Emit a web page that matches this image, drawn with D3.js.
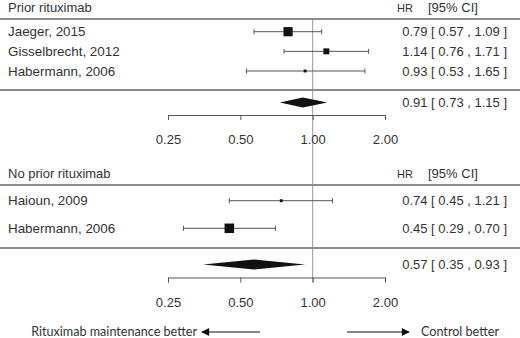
<!DOCTYPE html>
<html lang="en">
<head>
    <meta charset="UTF-8">
    <title>Forest plot - rituximab maintenance</title>
    <script src="https://d3js.org/d3.v7.min.js"></script>
    <style>
        body { margin: 0; background: white; }
        text { font-family: "Liberation Sans", Arial, sans-serif; fill: #333; }
        .note { font-family: Lato, "Open Sans", sans-serif; font-size: 12.6px; }
    </style>
</head>
<body>
    <div id="chart"></div>
    <script>
        // Data
        const groupTitles = ["Prior rituximab", "No prior rituximab"];

        const priorStudies = ["Jaeger, 2015", "Gisselbrecht, 2012", "Habermann, 2006"];
        const priorHR = [0.79, 1.14, 0.93];
        const priorLow = [0.57, 0.76, 0.53];
        const priorHigh = [1.09, 1.71, 1.65];
        const priorWeight = [51, 33, 16];
        const priorPooled = [0.91, 0.73, 1.15];

        const noPriorStudies = ["Haioun, 2009", "Habermann, 2006"];
        const noPriorHR = [0.74, 0.45];
        const noPriorLow = [0.45, 0.29];
        const noPriorHigh = [1.21, 0.70];
        const noPriorWeight = [16, 53];
        const noPriorPooled = [0.57, 0.35, 0.93];

        const tickValues = [0.25, 0.5, 1, 2];
        const tickLabels = ["0.25", "0.50", "1.00", "2.00"];

        const width = 520, height = 338;

        const svg = d3.select("#chart").append("svg")
            .attr("width", width)
            .attr("height", height);

        const x = d3.scaleLog().base(2).domain([0.25, 2]).range([168, 385]);
        const side = d3.scaleLinear().domain([0, 100]).range([0, 18]);
        const fmt = d3.format(".2f");

        // layout of the two panels
        const panels = [
            { title: groupTitles[0], names: priorStudies, hr: priorHR, lo: priorLow, hi: priorHigh,
              w: priorWeight, pooled: priorPooled,
              headY: 12, line1: 19, rows: [31.7, 71], line2: 90, diamondY: 102.5, axisY: 115, labelY: 145 },
            { title: groupTitles[1], names: noPriorStudies, hr: noPriorHR, lo: noPriorLow, hi: noPriorHigh,
              w: noPriorWeight, pooled: noPriorPooled,
              headY: 178, line1: 185, rows: [200.7, 228.3], line2: 248, diamondY: 264.5, axisY: 277.5, labelY: 299 }
        ];

        // reference line at HR = 1
        svg.append("line")
            .attr("x1", x(1)).attr("x2", x(1))
            .attr("y1", panels[0].line1).attr("y2", panels[1].axisY + 5)
            .attr("stroke", "#999").attr("stroke-width", 1);

        const ciText = (h, l, u) => `${fmt(h)} [ ${fmt(l)} , ${fmt(u)} ]`;

        panels.forEach(p => {
            const g = svg.append("g");
            const y = d3.scaleLinear().domain([0, p.names.length - 1]).range(p.rows);
            const idx = d3.range(p.names.length);

            g.append("text").attr("x", 8).attr("y", p.headY)
                .style("font-size", "13px").text(p.title);
            g.append("text").attr("x", 397).attr("y", p.headY)
                .style("font-size", "11px").text("HR");
            g.append("text").attr("x", 428).attr("y", p.headY)
                .style("font-size", "13px").text("[95% CI]");

            [p.line1, p.line2].forEach(ly => {
                g.append("line").attr("x1", 0).attr("x2", width)
                    .attr("y1", ly).attr("y2", ly)
                    .attr("stroke", "#8c8c8c").attr("stroke-width", 2);
            });

            // study rows
            const row = g.selectAll(".row").data(idx).enter().append("g").attr("class", "row");
            row.append("text").attr("x", 8).attr("y", i => y(i) + 4.5)
                .style("font-size", "13.4px").text(i => p.names[i]);
            row.append("line")
                .attr("x1", i => x(p.lo[i])).attr("x2", i => x(p.hi[i]))
                .attr("y1", i => y(i)).attr("y2", i => y(i))
                .attr("stroke", "#555").attr("stroke-width", 1);
            ["lo", "hi"].forEach(k => {
                row.append("line")
                    .attr("x1", i => x(p[k][i])).attr("x2", i => x(p[k][i]))
                    .attr("y1", i => y(i) - 2.5).attr("y2", i => y(i) + 2.5)
                    .attr("stroke", "#555").attr("stroke-width", 1);
            });
            row.append("rect")
                .attr("x", i => x(p.hr[i]) - side(p.w[i]) / 2)
                .attr("y", i => y(i) - side(p.w[i]) / 2)
                .attr("width", i => side(p.w[i]))
                .attr("height", i => side(p.w[i]))
                .attr("fill", "#111");
            row.append("text").attr("x", 507).attr("y", i => y(i) + 4.5)
                .attr("text-anchor", "end")
                .style("font-size", "13px")
                .text(i => ciText(p.hr[i], p.lo[i], p.hi[i]));

            // pooled diamond
            const [est, lo, hi] = p.pooled;
            const dy = p.diamondY;
            g.append("path")
                .attr("d", `M${x(lo)},${dy} L${x(est)},${dy - 5} L${x(hi)},${dy} L${x(est)},${dy + 5} Z`)
                .attr("fill", "#111");
            g.append("text").attr("x", 507).attr("y", dy + 4.5)
                .attr("text-anchor", "end")
                .style("font-size", "13px")
                .text(ciText(est, lo, hi));

            // axis
            const axis = d3.axisBottom(x).tickValues(tickValues)
                .tickFormat((d, i) => tickLabels[i]).tickSize(5).tickPadding(15);
            const ag = g.append("g").attr("transform", `translate(0,${p.axisY})`).call(axis);
            ag.select(".domain").attr("stroke", "#555");
            ag.selectAll(".tick line").attr("stroke", "#555");
            ag.selectAll(".tick text")
                .style("font-size", "13px").style("font-family", "Liberation Sans, Arial, sans-serif")
                .attr("fill", "#333");
        });

        // direction arrows
        const defs = svg.append("defs");
        defs.append("marker").attr("id", "head")
            .attr("viewBox", "0 0 10 10").attr("refX", 9).attr("refY", 5)
            .attr("markerWidth", 10).attr("markerHeight", 8)
            .attr("markerUnits", "userSpaceOnUse")
            .attr("orient", "auto")
            .append("path").attr("d", "M0,0 L10,5 L0,10 Z").attr("fill", "#111");

        const arrowY = 332;
        svg.append("line").attr("x1", 260).attr("x2", 202)
            .attr("y1", arrowY).attr("y2", arrowY)
            .attr("stroke", "#111").attr("stroke-width", 1)
            .attr("marker-end", "url(#head)");
        svg.append("line").attr("x1", 347).attr("x2", 409)
            .attr("y1", arrowY).attr("y2", arrowY)
            .attr("stroke", "#111").attr("stroke-width", 1)
            .attr("marker-end", "url(#head)");
        svg.append("text").attr("class", "note")
            .attr("x", 197).attr("y", arrowY + 4).attr("text-anchor", "end")
            .text("Rituximab maintenance better");
        svg.append("text").attr("class", "note")
            .attr("x", 421).attr("y", arrowY + 4)
            .text("Control better");
    </script>
</body>
</html>
